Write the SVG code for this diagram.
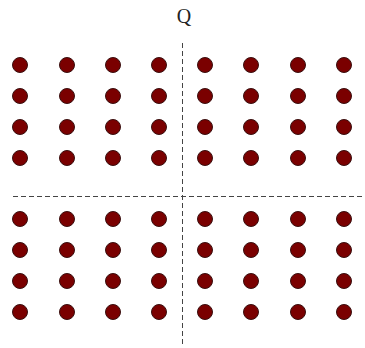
<svg xmlns="http://www.w3.org/2000/svg" width="365" height="348" viewBox="0 0 365 348">
<style>
.ax{stroke:#444;stroke-width:1;stroke-dasharray:5,3;fill:none}
.pt{fill:#7a0000;stroke:#3a1010;stroke-width:1}
.lbl{font-family:"Liberation Serif",serif;font-size:20px;fill:#222}
</style>
<rect width="365" height="348" fill="#fff"/>
<g id="axes">
<line class="ax" x1="182.5" y1="43" x2="182.5" y2="347"/>
<line class="ax" x1="13" y1="196.5" x2="362" y2="196.5"/>
</g>
<text class="lbl" x="184" y="23" text-anchor="middle">Q</text>
<g id="points">
<circle class="pt" cx="20" cy="65" r="7.5"/><circle class="pt" cx="67" cy="65" r="7.5"/><circle class="pt" cx="113" cy="65" r="7.5"/><circle class="pt" cx="159" cy="65" r="7.5"/><circle class="pt" cx="205" cy="65" r="7.5"/><circle class="pt" cx="251" cy="65" r="7.5"/><circle class="pt" cx="298" cy="65" r="7.5"/><circle class="pt" cx="344" cy="65" r="7.5"/>
<circle class="pt" cx="20" cy="96" r="7.5"/><circle class="pt" cx="67" cy="96" r="7.5"/><circle class="pt" cx="113" cy="96" r="7.5"/><circle class="pt" cx="159" cy="96" r="7.5"/><circle class="pt" cx="205" cy="96" r="7.5"/><circle class="pt" cx="251" cy="96" r="7.5"/><circle class="pt" cx="298" cy="96" r="7.5"/><circle class="pt" cx="344" cy="96" r="7.5"/>
<circle class="pt" cx="20" cy="127" r="7.5"/><circle class="pt" cx="67" cy="127" r="7.5"/><circle class="pt" cx="113" cy="127" r="7.5"/><circle class="pt" cx="159" cy="127" r="7.5"/><circle class="pt" cx="205" cy="127" r="7.5"/><circle class="pt" cx="251" cy="127" r="7.5"/><circle class="pt" cx="298" cy="127" r="7.5"/><circle class="pt" cx="344" cy="127" r="7.5"/>
<circle class="pt" cx="20" cy="158" r="7.5"/><circle class="pt" cx="67" cy="158" r="7.5"/><circle class="pt" cx="113" cy="158" r="7.5"/><circle class="pt" cx="159" cy="158" r="7.5"/><circle class="pt" cx="205" cy="158" r="7.5"/><circle class="pt" cx="251" cy="158" r="7.5"/><circle class="pt" cx="298" cy="158" r="7.5"/><circle class="pt" cx="344" cy="158" r="7.5"/>
<circle class="pt" cx="20" cy="219" r="7.5"/><circle class="pt" cx="67" cy="219" r="7.5"/><circle class="pt" cx="113" cy="219" r="7.5"/><circle class="pt" cx="159" cy="219" r="7.5"/><circle class="pt" cx="205" cy="219" r="7.5"/><circle class="pt" cx="251" cy="219" r="7.5"/><circle class="pt" cx="298" cy="219" r="7.5"/><circle class="pt" cx="344" cy="219" r="7.5"/>
<circle class="pt" cx="20" cy="250" r="7.5"/><circle class="pt" cx="67" cy="250" r="7.5"/><circle class="pt" cx="113" cy="250" r="7.5"/><circle class="pt" cx="159" cy="250" r="7.5"/><circle class="pt" cx="205" cy="250" r="7.5"/><circle class="pt" cx="251" cy="250" r="7.5"/><circle class="pt" cx="298" cy="250" r="7.5"/><circle class="pt" cx="344" cy="250" r="7.5"/>
<circle class="pt" cx="20" cy="281" r="7.5"/><circle class="pt" cx="67" cy="281" r="7.5"/><circle class="pt" cx="113" cy="281" r="7.5"/><circle class="pt" cx="159" cy="281" r="7.5"/><circle class="pt" cx="205" cy="281" r="7.5"/><circle class="pt" cx="251" cy="281" r="7.5"/><circle class="pt" cx="298" cy="281" r="7.5"/><circle class="pt" cx="344" cy="281" r="7.5"/>
<circle class="pt" cx="20" cy="312" r="7.5"/><circle class="pt" cx="67" cy="312" r="7.5"/><circle class="pt" cx="113" cy="312" r="7.5"/><circle class="pt" cx="159" cy="312" r="7.5"/><circle class="pt" cx="205" cy="312" r="7.5"/><circle class="pt" cx="251" cy="312" r="7.5"/><circle class="pt" cx="298" cy="312" r="7.5"/><circle class="pt" cx="344" cy="312" r="7.5"/>
</g>
</svg>
